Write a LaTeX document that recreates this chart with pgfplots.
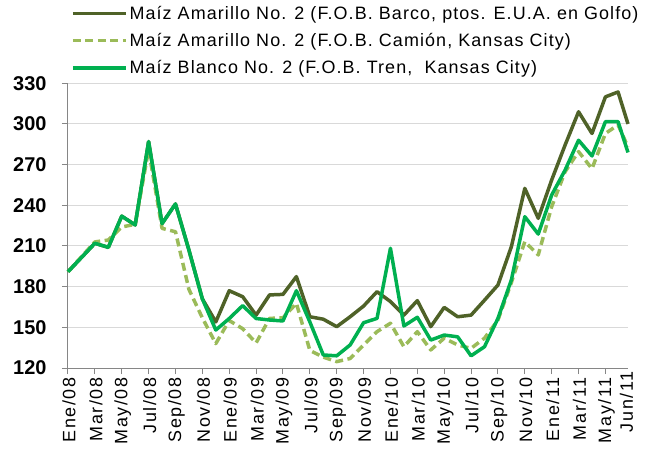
\documentclass[border=0pt]{standalone}
\usepackage{fontspec}
\setmainfont{Liberation Sans}
\newfontfamily\legfont[LetterSpace=6.1]{Liberation Sans}
\newfontfamily\xfont[LetterSpace=9]{Liberation Sans}
\usepackage{pgfplots}
\usepackage{pgfplotstable}
\pgfplotsset{compat=1.18}
\definecolor{golfo}{HTML}{4F6228}
\definecolor{camion}{HTML}{9BBB59}
\definecolor{blanco}{HTML}{00B050}
\definecolor{gridgray}{HTML}{D9D9D9}
\definecolor{axisgray}{HTML}{868686}

\pgfplotstableread{
x y
0 191
1 201.5
2 212
3 209
4 232
5 225.5
6 287
7 226.5
8 241
9 207
10 171
11 154
12 177
13 172.6
14 159
15 173.9
16 174.3
17 187.4
18 157.8
19 156
20 150.5
21 157.8
22 165.7
23 176.3
24 169
25 159
26 169.7
27 150.5
28 164.7
29 157.8
30 159
31 170
32 181.2
33 209.5
34 252.5
35 230.4
36 258.7
37 284.5
38 309
39 293
40 320
40.94 323.6
41.68 300
}\golfo

\pgfplotstableread{
x y
0 191
1 202
2 213
3 214.4
4 224
5 226
6 281
7 223
8 220.5
9 178
10 157
11 138
12 155
13 149
14 138.5
15 156.6
16 157
17 167.7
18 133
19 128
20 124.7
21 127
22 137
23 146.8
24 153
25 135.7
26 146.8
27 133.3
28 142
29 137
30 134.5
31 142
32 155.4
33 183
34 213.2
35 203.4
36 239
37 264.8
38 279.6
39 267
40 293
40.94 299.3
41.68 283
}\camion

\pgfplotstableread{
x y
0 191
1 201.5
2 212
3 209
4 232
5 225.5
6 287
7 226.5
8 241
9 207
10 171
11 148
12 156.5
13 166
14 156.5
15 155.4
16 154.7
17 177
18 154
19 129.6
20 129
21 137
22 153.4
23 156.6
24 208.3
25 151
26 157.4
27 140.6
28 144.3
29 143
30 129
31 135.7
32 156.6
33 185
34 231.6
35 218.8
36 247.6
37 266
38 288
39 276.4
40 301.7
40.94 301.7
41.68 279
}\blanco

\begin{document}
\begin{tikzpicture}
\begin{axis}[
  scale only axis,
  width=560bp, height=284.7bp,
  xmin=0, xmax=41.68,
  ymin=120, ymax=330,
  ytick={120,150,180,210,240,270,300,330},
  xtick={0,2,...,40},
  xticklabels={Ene/08,Mar/08,May/08,Jul/08,Sep/08,Nov/08,Ene/09,Mar/09,May/09,Jul/09,Sep/09,Nov/09,Ene/10,Mar/10,May/10,Jul/10,Sep/10,Nov/10,Ene/11,Mar/11,May/11},
  extra x ticks={41.5},
  extra x tick labels={Jun/11},
  extra x tick style={major tick length=0pt},
  axis lines*=left,
  axis line style={draw=axisgray, line width=1bp},
  tick style={draw=axisgray, line width=1bp},
  tick align=outside,
  major tick length=6bp,
  ymajorgrids,
  grid style={draw=gridgray, line width=1bp},
  /pgf/number format/assume math mode=true,
  yticklabel style={font=\fontsize{20}{22}\selectfont\bfseries, xshift=-12bp},
  x tick label style={rotate=90, anchor=east, font=\xfont\fontsize{18}{20}\selectfont, yshift=-1bp},
  legend style={at={(0.0054,1.278)}, anchor=north west, draw=none, fill=none,
    inner sep=0pt, outer sep=0pt, row sep=8.5bp,
    nodes={inner sep=2bp},
    font=\legfont\fontsize{18}{20}\selectfont},
  legend cell align=left,
  legend image code/.code={\draw[#1] (0bp,0bp) -- (53bp,0bp);},
  every axis plot/.append style={line width=3.5bp, line join=round},
  clip=false,
]
\addplot[golfo, no markers] table[x=x,y=y] {\golfo};
\addlegendentry{Maíz Amarillo No. 2 (F.O.B. Barco, ptos. E.U.A. en Golfo)}
\addplot[camion, no markers, dash pattern=on 8bp off 4.5bp] table[x=x,y=y] {\camion};
\addlegendentry{Maíz Amarillo No. 2 (F.O.B. Camión, Kansas City)}
\addplot[blanco, no markers] table[x=x,y=y] {\blanco};
\addlegendentry{Maíz Blanco No. 2 (F.O.B. Tren,\ \ Kansas City)}
\end{axis}
\pgfresetboundingbox
\useasboundingbox (-68bp,-83bp) rectangle (585bp,368bp);
\end{tikzpicture}
\end{document}
